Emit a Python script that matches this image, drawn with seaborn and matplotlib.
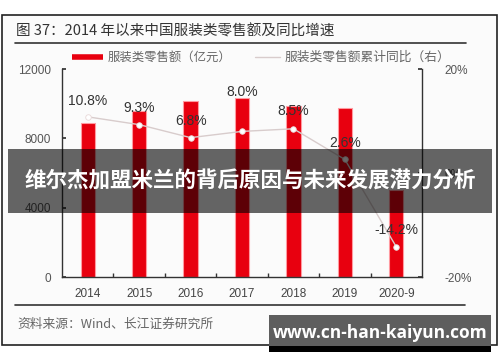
import numpy as np
import pandas as pd
import matplotlib
matplotlib.use("Agg")
import matplotlib.pyplot as plt
import seaborn as sns
from matplotlib.patches import Rectangle
from matplotlib.lines import Line2D

sns.set_theme(style="white")
plt.rcParams['font.family'] = ['Noto Sans CJK SC', 'DejaVu Sans']

years = ["2014", "2015", "2016", "2017", "2018", "2019", "2020-9"]
sales = [8880, 9580, 10170, 10310, 9870, 9730, 5000]
yoy = [10.8, 9.3, 6.8, 8.0, 8.5, 2.6, -14.2]
yoy_labels = ["10.8%", "9.3%", "6.8%", "8.0%", "8.5%", "2.6%", "-14.2%"]
left_ticks = [0, 4000, 8000, 12000]
right_ticks = [-20, 0, 20]
right_tick_labels = ["-20%", "0%", "20%"]

df = pd.DataFrame({"year": years, "sales": sales, "yoy": yoy})

W, H = 500, 362
fig = plt.figure(figsize=(5, 3.62), dpi=100)
fig.patch.set_facecolor("white")

def fx(x): return x / W
def fy(y): return 1 - y / H

# frame
fig.patches.append(Rectangle((fx(2), fy(345)), fx(497) - fx(2), fy(15) - fy(345),
                             transform=fig.transFigure, facecolor="#fbfbfb",
                             edgecolor="#222222", lw=1.2, zorder=-5))

ax = fig.add_axes([fx(62), fy(277), fx(422) - fx(62), fy(69) - fy(277)])
ax.set_zorder(1)
ax.set_facecolor("none")
sns.barplot(data=df, x="year", y="sales", ax=ax, color="#e8000f", width=0.28,
            edgecolor="#ff9aa0", linewidth=0.8, saturation=1)
ax.set_xlim(-0.5, 6.5)
ax.set_ylim(0, 12000)
ax.set_yticks(left_ticks)
ax.set_yticklabels([str(t) for t in left_ticks], fontsize=8.5, color="#555555",
                   family=["Liberation Sans"])
ax.set_xlabel("")
ax.set_ylabel("")
ax.set_xticks(range(len(years)))
ax.set_xticklabels(years, fontsize=8.5, color="#444444", family=["Liberation Sans"])
ax.set_xticks(np.arange(0.5, len(years) - 0.5, 1), minor=True)
ax.tick_params(axis="x", which="major", length=0, pad=8)
ax.tick_params(axis="x", which="minor", length=3, direction="in", color="#333333", bottom=True)
ax.tick_params(axis="y", length=3, direction="in", color="#333333", pad=8, left=True)
ax.spines["top"].set_visible(False)
for s in ["left", "bottom", "right"]:
    ax.spines[s].set_color("#333333")
    ax.spines[s].set_linewidth(1.0)
ax.spines["right"].set_visible(False)

ax2 = ax.twinx()
sns.lineplot(data=df, x="year", y="yoy", ax=ax2, sort=False, color="#d8cccc",
             linewidth=1.0, marker="o", markersize=4, markerfacecolor="white",
             markeredgecolor="#e8d8d8", markeredgewidth=0.6)
ax2.set_ylim(-20, 20)
ax2.set_yticks(right_ticks)
ax2.set_yticklabels(right_tick_labels, fontsize=8.5, color="#555555",
                    family=["Liberation Sans"])
ax2.set_ylabel("")
ax2.set_xlabel("")
ax2.tick_params(axis="y", length=3, direction="in", color="#333333", pad=16, right=True)
ax2.spines["top"].set_visible(False)
ax2.spines["left"].set_visible(False)
ax2.spines["bottom"].set_visible(False)
ax2.spines["right"].set_color("#333333")
ax2.spines["right"].set_linewidth(1.0)
ax2.set_zorder(2)
ax2.patch.set_visible(False)

offsets = [16, 17, 17, 39, 18, 16, 17]
for i, (v, lab) in enumerate(zip(yoy, yoy_labels)):
    ax2.annotate(lab, (i, v), xytext=(0, offsets[i] * 0.72), textcoords="offset points",
                 ha="center", va="center", fontsize=10, color="#333333",
                 family=["Liberation Sans"])

# title
fig.text(fx(16), fy(31), "图 37：2014 年以来中国服装类零售额及同比增速", fontsize=10.5,
         color="#333333", va="center", ha="left")
fig.add_artist(Line2D([fx(15), fx(466)], [fy(43), fy(43)], color="#333333", lw=1.2))

# legend
fig.add_artist(Line2D([fx(72), fx(103)], [fy(57), fy(57)], color="#e8000f", lw=4,
                      solid_capstyle="butt"))
fig.text(fx(108), fy(57), "服装类零售额（亿元）", fontsize=8.9, color="#666666", va="center")
fig.add_artist(Line2D([fx(255), fx(280)], [fy(57), fy(57)], color="#d8cccc", lw=1))
fig.text(fx(285), fy(57), "服装类零售额累计同比（右）", fontsize=9.2, color="#666666", va="center")

# source
fig.add_artist(Line2D([fx(15), fx(465)], [fy(305), fy(305)], color="#333333", lw=1.2))
fig.text(fx(17), fy(324), "资料来源：Wind、长江证券研究所", fontsize=9.2, color="#666666", va="center")

# overlay band
fig.patches.append(Rectangle((fx(8), fy(213)), fx(492) - fx(8), fy(149) - fy(213),
                             transform=fig.transFigure, facecolor="black", alpha=0.6,
                             edgecolor="none", zorder=10))
fig.text(fx(250), fy(181), "维尔杰加盟米兰的背后原因与未来发展潜力分析", fontsize=15.5,
         fontweight="bold", color="white", ha="center", va="center", zorder=11)

# watermark
fig.patches.append(Rectangle((fx(269), fy(352)), fx(491) - fx(269), fy(346) - fy(352),
                             transform=fig.transFigure, facecolor="black",
                             edgecolor="none", zorder=10))
fig.patches.append(Rectangle((fx(269), fy(346)), fx(491) - fx(269), fy(315) - fy(346),
                             transform=fig.transFigure, facecolor="#5e5e5e",
                             edgecolor="none", zorder=10))
fig.text(fx(380), fy(333), "www.cn-han-kaiyun.com", fontsize=12.5, fontweight="bold",
         color="white", ha="center", va="center", zorder=11, family=["Open Sans"])

fig.savefig("out.png", dpi=100)
